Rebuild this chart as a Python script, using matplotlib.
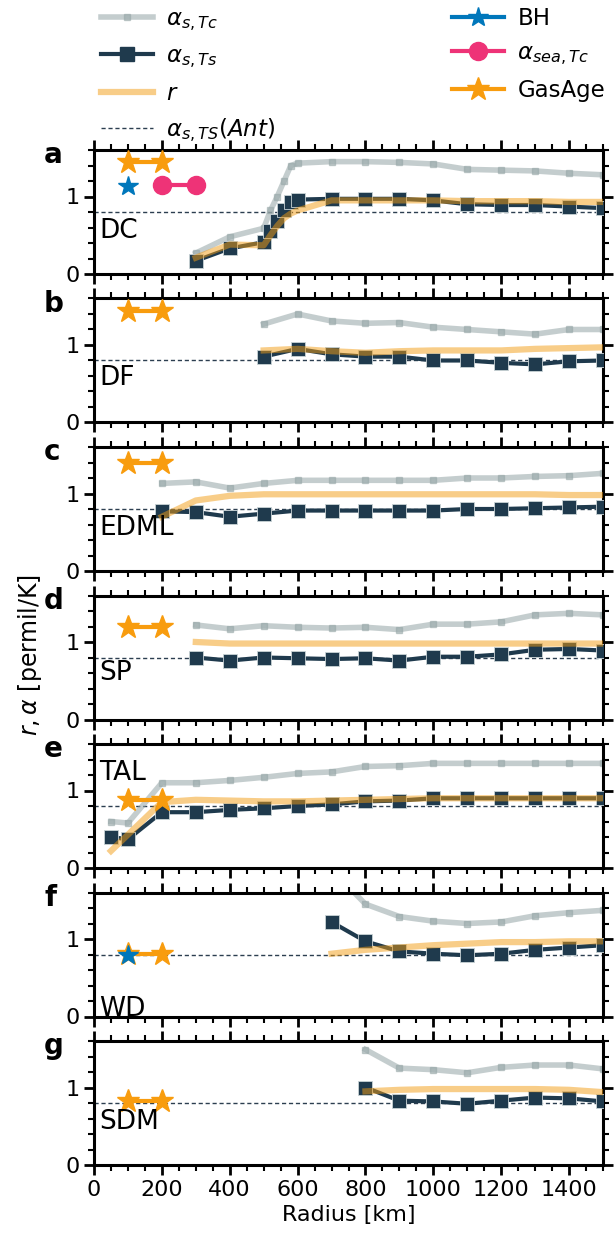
import matplotlib
matplotlib.use('Agg')
import matplotlib.pyplot as plt
from matplotlib.ticker import MultipleLocator, FixedLocator
from matplotlib.lines import Line2D

# ---------------- data ----------------
stations = ['DC', 'DF', 'EDML', 'SP', 'TAL', 'WD', 'SDM']
letters = ['a', 'b', 'c', 'd', 'e', 'f', 'g']

x_a = [300, 400, 500, 520, 540, 560, 580, 600, 700, 800, 900, 1000, 1100, 1200, 1300, 1400, 1500]
tc_a = [0.27, 0.48, 0.59, 0.82, 1.00, 1.20, 1.40, 1.43, 1.45, 1.45, 1.44, 1.42, 1.35, 1.34, 1.33, 1.30, 1.28]
ts_a = [0.17, 0.33, 0.41, 0.55, 0.68, 0.82, 0.93, 0.96, 0.97, 0.97, 0.97, 0.95, 0.90, 0.89, 0.89, 0.87, 0.85]
r_a = [0.21, 0.38, 0.37, 0.50, 0.62, 0.72, 0.78, 0.82, 0.95, 0.95, 0.95, 0.95, 0.94, 0.94, 0.94, 0.93, 0.93]

x_b = [500, 600, 700, 800, 900, 1000, 1100, 1200, 1300, 1400, 1500]
tc_b = [1.27, 1.40, 1.31, 1.28, 1.29, 1.23, 1.20, 1.17, 1.14, 1.20, 1.20]
ts_b = [0.85, 0.95, 0.88, 0.85, 0.85, 0.80, 0.80, 0.77, 0.75, 0.79, 0.80]
r_b = [0.93, 0.95, 0.92, 0.90, 0.92, 0.93, 0.93, 0.93, 0.95, 0.96, 0.97]

x_c = [200, 300, 400, 500, 600, 700, 800, 900, 1000, 1100, 1200, 1300, 1400, 1500]
tc_c = [1.13, 1.15, 1.07, 1.13, 1.17, 1.17, 1.17, 1.17, 1.17, 1.20, 1.20, 1.22, 1.23, 1.26]
ts_c = [0.77, 0.76, 0.70, 0.74, 0.78, 0.78, 0.78, 0.78, 0.78, 0.80, 0.80, 0.81, 0.82, 0.83]
r_c = [0.70, 0.91, 0.97, 0.99, 0.99, 0.99, 0.99, 0.99, 0.99, 0.99, 0.99, 0.99, 0.98, 0.98]

x_d = [300, 400, 500, 600, 700, 800, 900, 1000, 1100, 1200, 1300, 1400, 1500]
tc_d = [1.22, 1.17, 1.21, 1.19, 1.18, 1.19, 1.16, 1.23, 1.23, 1.26, 1.35, 1.37, 1.35]
ts_d = [0.80, 0.76, 0.80, 0.79, 0.78, 0.79, 0.76, 0.81, 0.81, 0.84, 0.90, 0.91, 0.89]
r_d = [1.00, 0.98, 0.98, 0.98, 0.98, 0.98, 0.98, 0.98, 0.98, 0.98, 0.98, 0.98, 0.98]

x_e = [50, 100, 200, 300, 400, 500, 600, 700, 800, 900, 1000, 1100, 1200, 1300, 1400, 1500]
tc_e = [0.60, 0.58, 1.10, 1.10, 1.13, 1.17, 1.22, 1.24, 1.31, 1.32, 1.35, 1.35, 1.35, 1.35, 1.35, 1.35]
ts_e = [0.40, 0.37, 0.72, 0.72, 0.75, 0.77, 0.80, 0.82, 0.86, 0.87, 0.90, 0.90, 0.90, 0.90, 0.90, 0.90]
r_e = [0.22, 0.43, 0.85, 0.88, 0.87, 0.86, 0.86, 0.87, 0.88, 0.89, 0.90, 0.90, 0.90, 0.90, 0.90, 0.90]

x_f = [700, 800, 900, 1000, 1100, 1200, 1300, 1400, 1500]
tc_f = [1.90, 1.45, 1.29, 1.23, 1.20, 1.22, 1.30, 1.34, 1.37]
ts_f = [1.22, 0.97, 0.84, 0.81, 0.79, 0.81, 0.86, 0.89, 0.92]
r_f = [0.81, 0.86, 0.89, 0.92, 0.94, 0.96, 0.96, 0.97, 0.97]

x_g = [800, 900, 1000, 1100, 1200, 1300, 1400, 1500]
tc_g = [1.49, 1.25, 1.23, 1.19, 1.26, 1.29, 1.29, 1.24]
ts_g = [1.00, 0.83, 0.82, 0.79, 0.83, 0.87, 0.86, 0.82]
r_g = [0.95, 0.97, 0.98, 0.98, 0.98, 0.98, 0.97, 0.94]

gasage_x = [100, 200]
gasage_y = [1.45, 1.44, 1.40, 1.19, 0.88, 0.81, 0.82]
bh_x = [100]
bh_y = {0: 1.14, 5: 0.80}
sea_x = [200, 300]
sea_y = {0: 1.15}
ant_alpha = 0.8

label_y = [0.55, 0.57, 0.55, 0.60, 1.22, 0.10, 0.55]

xs = [x_a, x_b, x_c, x_d, x_e, x_f, x_g]
tcs = [tc_a, tc_b, tc_c, tc_d, tc_e, tc_f, tc_g]
tss = [ts_a, ts_b, ts_c, ts_d, ts_e, ts_f, ts_g]
rs = [r_a, r_b, r_c, r_d, r_e, r_f, r_g]

# ---------------- style ----------------
C_GRAY = '#95a5a6'
C_DARK = '#1f3a4d'
C_R = '#f39c12'
C_GAS = '#f89c0e'
C_BH = '#0077bb'
C_SEA = '#ee3377'
C_ANT = '#2c3e50'

FS_TICK = 16
FS_LAB = 19
FS_LEG = 16.5

W, H = 614, 1234
fig = plt.figure(figsize=(W / 100, H / 100), dpi=100)

left_px, right_px = 94, 603
top0 = 150
pitch = 148.5
hpx = 124

axes = []
for i in range(7):
    top = top0 + i * pitch
    ax = fig.add_axes([left_px / W, 1 - (top + hpx) / H, (right_px - left_px) / W, hpx / H])
    axes.append(ax)

for i, ax in enumerate(axes):
    ax.plot(xs[i], tcs[i], color=C_GRAY, lw=4, alpha=0.55, marker='s', ms=5, zorder=2)
    ax.plot(xs[i], tss[i], color=C_DARK, lw=3, marker='s', ms=10, mec='#c9d3d6', mew=0.6,
            zorder=3)
    ax.plot(xs[i], rs[i], color=C_R, lw=4.5, alpha=0.5, zorder=4)
    ax.axhline(ant_alpha, color=C_ANT, lw=1.0, ls=(0, (3, 2)), zorder=1)
    ax.plot(gasage_x, [gasage_y[i]] * 2, color=C_GAS, lw=3, marker='*', ms=17, zorder=5)
    if i in bh_y:
        ax.plot(bh_x, [bh_y[i]], color=C_BH, lw=3, marker='*', ms=15, zorder=6)
    if i in sea_y:
        ax.plot(sea_x, [sea_y[i]] * 2, color=C_SEA, lw=3, marker='o', ms=13, zorder=6)

    ax.text(15, label_y[i], stations[i], fontsize=FS_LAB, ha='left', va='center', zorder=7)
    ax.text(-0.098, 0.895, letters[i], transform=ax.transAxes, fontsize=20,
            fontweight='bold', ha='left', va='baseline')

    ax.set_xlim(0, 1500)
    ax.set_ylim(0, 1.6)
    ax.xaxis.set_major_locator(MultipleLocator(200))
    ax.xaxis.set_minor_locator(MultipleLocator(50))
    ax.yaxis.set_major_locator(FixedLocator([0, 1]))
    ax.yaxis.set_minor_locator(MultipleLocator(0.2))
    ax.tick_params(which='both', direction='out', top=True, right=True, labelsize=FS_TICK,
                   width=2)
    ax.tick_params(which='major', length=7)
    ax.tick_params(which='minor', length=4, width=1.5)
    for s in ax.spines.values():
        s.set_linewidth(2.2)
    if i < 6:
        ax.tick_params(labelbottom=False)
    else:
        ax.set_xlabel('Radius [km]', fontsize=FS_TICK)

fig.text(30 / W, 1 - 655 / H, r'$r, \alpha$ [permil/K]', rotation=90, fontsize=17,
         ha='center', va='center')

# legend
h = [
    Line2D([], [], color=C_GRAY, lw=4, alpha=0.55, marker='s', ms=5),
    Line2D([], [], color=C_DARK, lw=3, marker='s', ms=10),
    Line2D([], [], color=C_R, lw=4.5, alpha=0.5),
    Line2D([], [], color=C_ANT, lw=1.0, ls=(0, (3, 2))),
    Line2D([], [], color=C_BH, lw=3, marker='*', ms=15),
    Line2D([], [], color=C_SEA, lw=3, marker='o', ms=13),
    Line2D([], [], color=C_GAS, lw=3, marker='*', ms=17),
]
lab = [r'$\alpha_{s,Tc}$', r'$\alpha_{s,Ts}$', r'$r$', r'$\alpha_{s,TS}(Ant)$',
       'BH', r'$\alpha_{sea,Tc}$', 'GasAge']
fig.legend(h, lab, ncol=2, loc='upper left', bbox_to_anchor=(101 / W, 1 - 7 / H),
           frameon=False, fontsize=FS_LEG, handlelength=2.25, handletextpad=0.6,
           columnspacing=7.7, labelspacing=0.5, borderpad=0, borderaxespad=0)

fig.savefig('out.png', dpi=100)
